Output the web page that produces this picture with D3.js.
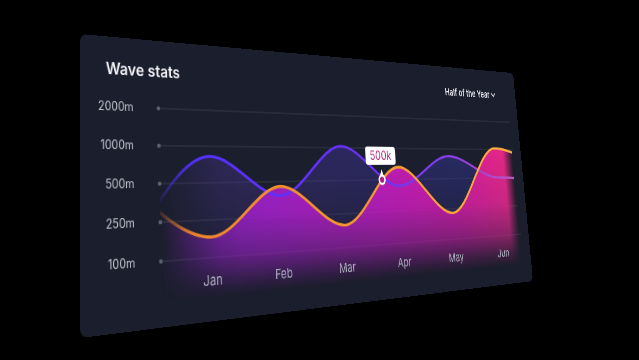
<!DOCTYPE html>
<html>
<head>
<meta charset="utf-8">
<script src="https://cdn.jsdelivr.net/npm/d3@7"></script>
<style>
  html, body { margin: 0; padding: 0; background: #000; width: 639px; height: 360px; overflow: hidden; }
  #card { position: absolute; left: 0; top: 0; transform-origin: 0 0; }
  text { font-family: Inter, "Open Sans", sans-serif; }
</style>
</head>
<body>
<div id="card"></div>
<script>
// ---------- data ----------
const months = ["Jan", "Feb", "Mar", "Apr", "May", "Jun"];
const yTicks = [100, 250, 500, 1000, 2000];
const yTickLabels = ["100m", "250m", "500m", "1000m", "2000m"];
const orangeValues = [182, 466, 199, 700, 229, 1040];
const purpleValues = [860, 400, 1050, 450, 880, 510];
const orangeEdges = [475, 690];   // value just before Jan / just after Jun
const purpleEdges = [170, 490];
const tooltipAt = 2.69;
const tooltipLabel = "500k";
const title = "Wave stats";
const periodLabel = "Half of the Year";

// ---------- layout ----------
const W = 720, H = 300;
const corners = [[80, 34], [513, 73], [533, 281], [80, 338]]; // TL, TR, BR, BL on screen
const plotLeft = 94, plotRight = 699;
const yTop = 74, yStep = 40;

// homography: card rectangle -> screen quad, as CSS matrix3d
function homography(w, h, p) {
  const [[x0, y0], [x1, y1], [x2, y2], [x3, y3]] = p;
  const sx = x0 - x1 + x2 - x3, sy = y0 - y1 + y2 - y3;
  const dx1 = x1 - x2, dx2 = x3 - x2, dy1 = y1 - y2, dy2 = y3 - y2;
  const den = dx1 * dy2 - dy1 * dx2;
  const g = (sx * dy2 - sy * dx2) / den;
  const hh = (dx1 * sy - dy1 * sx) / den;
  const a = x1 - x0 + g * x1, b = x3 - x0 + hh * x3, c = x0;
  const d = y1 - y0 + g * y1, e = y3 - y0 + hh * y3, f = y0;
  return `matrix3d(${a / w},${d / w},0,${g / w},${b / h},${e / h},0,${hh / h},0,0,1,0,${c},${f},0,1)`;
}
d3.select("#card").style("width", W + "px").style("height", H + "px")
  .style("transform", homography(W, H, corners));

const svg = d3.select("#card").append("svg").attr("width", W).attr("height", H);
const defs = svg.append("defs");

// scales
const x = d3.scaleLinear().domain([0, months.length - 1]).range([160, 659]);
const y = d3.scaleLinear().domain(yTicks).range(yTicks.map((d, i) => yTop + (yTicks.length - 1 - i) * yStep));

const toSeries = (vals, edges) => [{ i: -1, v: edges[0] }, ...vals.map((v, i) => ({ i, v })), { i: vals.length, v: edges[1] }];
const orange = toSeries(orangeValues, orangeEdges);
const purple = toSeries(purpleValues, purpleEdges);

// gradients
function lin(id, attrs, stops) {
  const g = defs.append("linearGradient").attr("id", id).attr("gradientUnits", "userSpaceOnUse");
  Object.entries(attrs).forEach(([k, v]) => g.attr(k, v));
  stops.forEach(([o, c, op]) => g.append("stop").attr("offset", o).attr("stop-color", c).attr("stop-opacity", op == null ? 1 : op));
}
lin("orangeFill", { x1: plotLeft, x2: plotRight, y1: 0, y2: 0 },
  [[0, "#8a22c8"], [0.25, "#a81fcc"], [0.55, "#c41cbe"], [0.8, "#d81ca6"], [1, "#ee2a82"]]);
lin("purpleFill", { x1: plotLeft, x2: plotRight, y1: 0, y2: 0 },
  [[0, "#52389a"], [0.5, "#4436a8"], [1, "#3040b0"]]);
lin("purpleStroke", { x1: plotLeft, x2: plotRight, y1: 0, y2: 0 },
  [[0, "#5230ff"], [0.5, "#6832f6"], [0.78, "#8a3ee6"], [0.9, "#a848d0"], [1, "#c058c0"]]);
lin("orangeStroke", { x1: plotLeft, x2: plotRight, y1: 0, y2: 0 },
  [[0, "#ee842a"], [0.5, "#f5982e"], [1, "#ffae42"]]);
lin("vFadeOrange", { x1: 0, x2: 0, y1: 100, y2: 276 },
  [[0, "#fff", 1], [0.5, "#fff", 0.85], [0.75, "#fff", 0.55], [0.9, "#fff", 0.2], [1, "#fff", 0]]);
lin("vFadePurple", { x1: 0, x2: 0, y1: 80, y2: 270 },
  [[0, "#fff", 0.5], [0.5, "#fff", 0.3], [1, "#fff", 0]]);
lin("hFadeFill", { x1: plotLeft, x2: plotRight, y1: 0, y2: 0 },
  [[0, "#fff", 0], [0.06, "#fff", 0.45], [0.13, "#fff", 0.9], [0.18, "#fff", 1], [0.965, "#fff", 1], [1, "#fff", 0]]);
lin("hFadeLine", { x1: plotLeft, x2: plotRight, y1: 0, y2: 0 },
  [[0, "#fff", 0.15], [0.06, "#fff", 0.9], [0.09, "#fff", 1], [1, "#fff", 1]]);

function mask(id, fillId) {
  defs.append("mask").attr("id", id).attr("maskUnits", "userSpaceOnUse")
    .attr("x", 0).attr("y", 0).attr("width", W).attr("height", H)
    .append("rect").attr("width", W).attr("height", H).attr("fill", `url(#${fillId})`);
}
mask("mOrangeV", "vFadeOrange");
mask("mPurpleV", "vFadePurple");
mask("mFillH", "hFadeFill");
mask("mLineH", "hFadeLine");
defs.append("clipPath").attr("id", "plotClip").append("rect")
  .attr("x", plotLeft).attr("y", 0).attr("width", plotRight - plotLeft).attr("height", H);

// card
svg.append("rect").attr("width", W).attr("height", H).attr("rx", 8).attr("fill", "#1b1e2c");

// title + period selector
svg.append("text").attr("x", 30).attr("y", 40).attr("font-size", 17.5).attr("font-weight", 600)
  .attr("fill", "#f2f2f6").text(title);
const per = svg.append("text").attr("x", 563).attr("y", 40).attr("font-size", 13).attr("font-weight", 600)
  .attr("fill", "#e6e6ee").text(periodLabel);
const pw = per.node().getComputedTextLength();
svg.append("path").attr("d", `M${563 + pw + 4},${33} l4,4.5 l4,-4.5`).attr("fill", "none")
  .attr("stroke", "#e6e6ee").attr("stroke-width", 1.8);

// grid + y labels
const grid = svg.append("g");
yTicks.forEach((t, i) => {
  grid.append("line").attr("x1", plotLeft).attr("x2", plotRight + 3).attr("y1", y(t)).attr("y2", y(t))
    .attr("stroke", "#ffffff").attr("stroke-opacity", 0.13).attr("stroke-width", 1);
  grid.append("circle").attr("cx", plotLeft).attr("cy", y(t)).attr("r", 2.3).attr("fill", "#5c6072");
  grid.append("text").attr("x", 63).attr("y", y(t)).attr("text-anchor", "end").attr("dy", "0.35em")
    .attr("font-size", 12.5).attr("fill", "#c4c6d0").text(yTickLabels[i]);
});

// series
const plot = svg.append("g").attr("clip-path", "url(#plotClip)");
const baseY = 292;
const area = d3.area().x(d => x(d.i)).y0(baseY).y1(d => y(d.v)).curve(d3.curveMonotoneX);
const line = d3.line().x(d => x(d.i)).y(d => y(d.v)).curve(d3.curveMonotoneX);

const fills = plot.append("g").attr("mask", "url(#mFillH)");
fills.append("g").attr("mask", "url(#mPurpleV)")
  .append("path").attr("d", area(purple)).attr("fill", "url(#purpleFill)");
fills.append("g").attr("mask", "url(#mOrangeV)")
  .append("path").attr("d", area(orange)).attr("fill", "url(#orangeFill)");

const lines = plot.append("g").attr("mask", "url(#mLineH)");
lines.append("path").attr("d", line(purple)).attr("fill", "none")
  .attr("stroke", "url(#purpleStroke)").attr("stroke-width", 3.2);
const oPath = lines.append("path").attr("d", line(orange)).attr("fill", "none")
  .attr("stroke", "url(#orangeStroke)").attr("stroke-width", 3.4);

// month labels
months.forEach((m, i) => {
  svg.append("text").attr("x", x(i)).attr("y", 263).attr("text-anchor", "middle")
    .attr("font-size", 15).attr("fill", "#aeb1c0").text(m);
});

// tooltip: find point on orange curve at tooltipAt
const node = oPath.node(), total = node.getTotalLength(), tx = x(tooltipAt);
let lo = 0, hi = total;
for (let k = 0; k < 40; k++) { const mid = (lo + hi) / 2; if (node.getPointAtLength(mid).x < tx) lo = mid; else hi = mid; }
const pt = node.getPointAtLength(lo);
const tip = svg.append("g").attr("transform", `translate(${pt.x},${pt.y})`);
tip.append("path").attr("d", "M-4,-4 L0,-13 L4,-4 Z").attr("fill", "#fff");
tip.append("circle").attr("r", 6.5).attr("fill", "#fff");
tip.append("circle").attr("r", 3.8).attr("fill", "#b21f80");
tip.append("rect").attr("x", -27).attr("y", -42).attr("width", 54).attr("height", 23).attr("rx", 4).attr("fill", "#fff");
tip.append("text").attr("x", 0).attr("y", -30.5).attr("dy", "0.36em").attr("text-anchor", "middle")
  .attr("font-size", 16).attr("fill", "#b01f7e").text(tooltipLabel);
</script>
</body>
</html>
